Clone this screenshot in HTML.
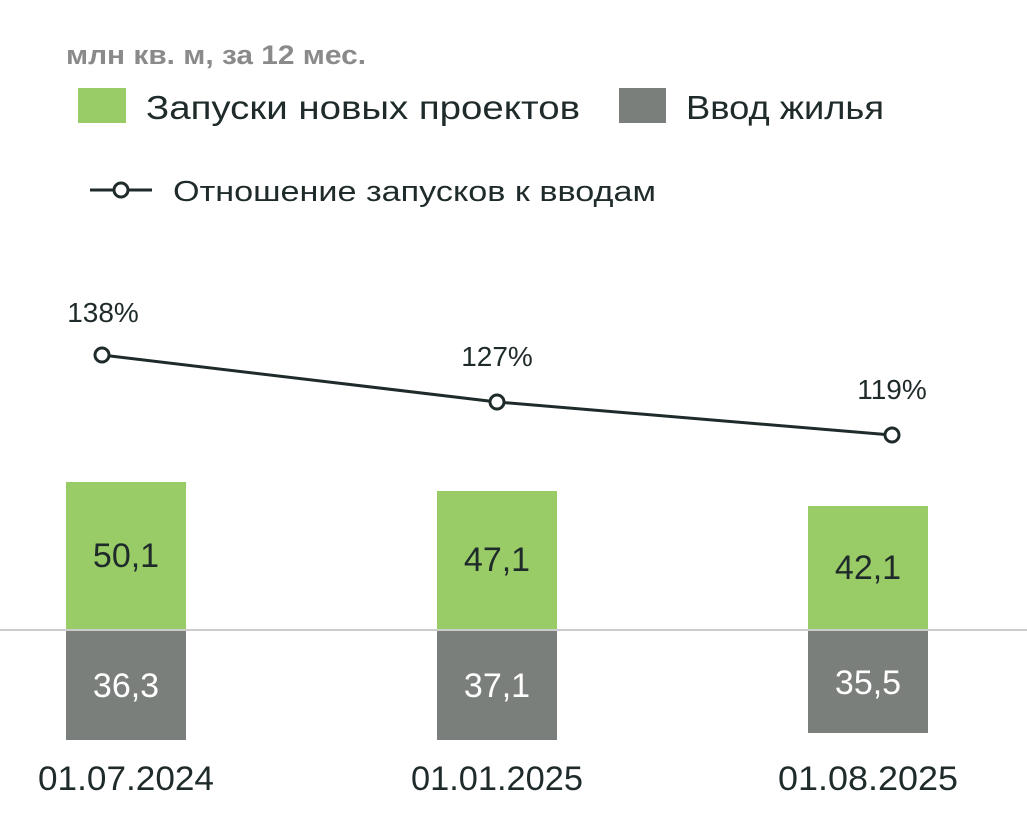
<!DOCTYPE html>
<html><head><meta charset="utf-8"><style>
body{margin:0;background:#fff;}
svg{display:block;font-family:"Liberation Sans",sans-serif;}
</style></head><body>
<svg width="1027" height="828" viewBox="0 0 1027 828">
<text x="66" y="64" font-size="27" fill="#8a8a8a" font-weight="bold" textLength="300" lengthAdjust="spacingAndGlyphs">млн кв. м, за 12 мес.</text>
<rect x="78" y="88" width="48" height="35" fill="#99cc66"/>
<text x="146" y="119" font-size="33" fill="#1f2a2a" textLength="434" lengthAdjust="spacingAndGlyphs">Запуски новых проектов</text>
<rect x="619" y="88" width="47" height="35" fill="#7b7f7c"/>
<text x="686" y="119" font-size="33" fill="#1f2a2a" textLength="198" lengthAdjust="spacingAndGlyphs">Ввод жилья</text>
<line x1="90" y1="190" x2="152" y2="190" stroke="#1f2a2a" stroke-width="3"/>
<circle cx="121" cy="190" r="7" fill="#fff" stroke="#1f2a2a" stroke-width="3"/>
<text x="173" y="201" font-size="29" fill="#1f2a2a" textLength="483" lengthAdjust="spacingAndGlyphs">Отношение запусков к вводам</text>

<rect x="66" y="482" width="120" height="148" fill="#99cc66"/>
<rect x="437" y="491" width="120" height="139" fill="#99cc66"/>
<rect x="808" y="506" width="120" height="124" fill="#99cc66"/>
<rect x="66" y="631" width="120" height="109" fill="#7b7f7c"/>
<rect x="437" y="631" width="120" height="109" fill="#7b7f7c"/>
<rect x="808" y="631" width="120" height="102" fill="#7b7f7c"/>
<line x1="0" y1="630" x2="1027" y2="630" stroke="#cccccc" stroke-width="2"/>

<g font-size="34" fill="#1f2a2a" text-anchor="middle">
<text x="126" y="567">50,1</text>
<text x="497" y="571">47,1</text>
<text x="868" y="579">42,1</text>
</g>
<g font-size="34" fill="#ffffff" text-anchor="middle">
<text x="126" y="697">36,3</text>
<text x="497" y="697">37,1</text>
<text x="868" y="694">35,5</text>
</g>
<g font-size="34" fill="#1f2a2a" text-anchor="middle">
<text x="126" y="790" textLength="176" lengthAdjust="spacingAndGlyphs">01.07.2024</text>
<text x="497" y="790" textLength="172" lengthAdjust="spacingAndGlyphs">01.01.2025</text>
<text x="868" y="790" textLength="180" lengthAdjust="spacingAndGlyphs">01.08.2025</text>
</g>

<polyline points="102,355 497,402 892,435" fill="none" stroke="#1f2a2a" stroke-width="3"/>
<circle cx="102" cy="355" r="7" fill="#fff" stroke="#1f2a2a" stroke-width="3"/>
<circle cx="497" cy="402" r="7" fill="#fff" stroke="#1f2a2a" stroke-width="3"/>
<circle cx="892" cy="435" r="7" fill="#fff" stroke="#1f2a2a" stroke-width="3"/>
<g font-size="28" fill="#1f2a2a" text-anchor="middle">
<text x="103" y="322">138%</text>
<text x="497" y="366">127%</text>
<text x="892" y="399">119%</text>
</g>
</svg>
</body></html>
